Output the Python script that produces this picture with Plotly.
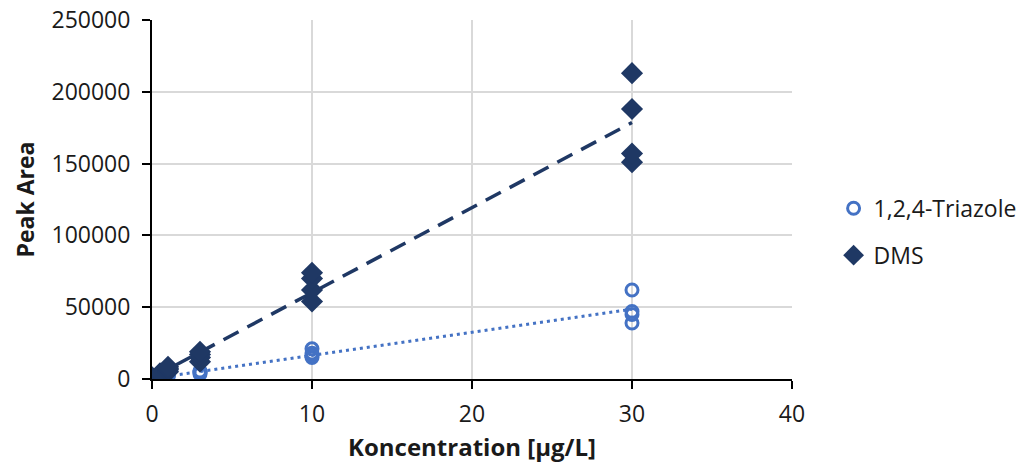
import numpy as np
import plotly.graph_objects as go

# Data
dms_x = [0, 0, 0, 0, 0.5, 0.5, 0.5, 0.5, 1, 1, 1, 1, 3, 3, 3, 3, 10, 10, 10, 10, 30, 30, 30, 30]
dms_y = [500, 800, 1000, 1200, 2500, 3000, 3500, 4000, 5000, 6500, 7500, 8500,
         12000, 15000, 17000, 19000, 54000, 62000, 70000, 74000, 151000, 157000, 188000, 213000]

tri_x = [0, 0, 0.5, 0.5, 1, 1, 1, 3, 3, 3, 3, 10, 10, 10, 10, 30, 30, 30, 30]
tri_y = [200, 300, 800, 1000, 1500, 2000, 2500, 3500, 4500, 5000, 5500,
         15000, 16500, 18000, 21000, 39000, 45000, 47000, 62000]

x_ticks = [0, 10, 20, 30, 40]
y_ticks = [0, 50000, 100000, 150000, 200000, 250000]

navy = "#1F3864"
blue = "#4472C4"
font = "Open Sans"
txt = "#1a1a1a"

def trend(xs, ys):
    k, b = np.polyfit(xs, ys, 1)
    xx = np.array([min(xs), max(xs)])
    return xx, k * xx + b

fig = go.Figure()

tx, ty = trend(tri_x, tri_y)
fig.add_trace(go.Scatter(x=tx, y=ty, mode="lines", showlegend=False,
                         line=dict(color=blue, width=3, dash="3px,4px"), hoverinfo="skip"))
dx, dy = trend(dms_x, dms_y)
fig.add_trace(go.Scatter(x=dx, y=dy, mode="lines", showlegend=False,
                         line=dict(color=navy, width=3.5, dash="17px,10px"), hoverinfo="skip"))

fig.add_trace(go.Scatter(x=tri_x, y=tri_y, mode="markers", name="1,2,4-Triazole",
                         legendgroup="a",
                         marker=dict(symbol="circle-open", size=12, color=blue,
                                     line=dict(width=3, color=blue))))
fig.add_trace(go.Scatter(x=dms_x, y=dms_y, mode="markers", name="DMS",
                         legendgroup="b",
                         marker=dict(symbol="diamond", size=17, color=navy,
                                     line=dict(width=0))))

fig.update_layout(
    width=1024, height=467,
    margin=dict(l=152, r=232, t=20, b=88, autoexpand=False),
    paper_bgcolor="white", plot_bgcolor="white",
    font=dict(family=font, size=23, color=txt),
    legend=dict(x=1.065, y=0.41, xanchor="left", yanchor="middle",
                tracegroupgap=14, font=dict(size=23, family=font, color=txt)),
    xaxis=dict(range=[0, 40], tickvals=x_ticks, showgrid=True, gridcolor="#D9D9D9",
               gridwidth=2, showline=True, linecolor="black", linewidth=2,
               ticks="outside", ticklen=8, tickwidth=2, tickcolor="black",
               zeroline=False, ticklabelstandoff=5,
               tickfont=dict(size=23, family=font, color=txt),
               title=dict(text="<b>Koncentration [µg/L]</b>", standoff=12,
                          font=dict(size=24, family=font, color=txt))),
    yaxis=dict(range=[0, 250000], tickvals=y_ticks, showgrid=True, gridcolor="#D9D9D9",
               gridwidth=2, showline=True, linecolor="black", linewidth=2,
               ticks="outside", ticklen=8, tickwidth=2, tickcolor="black",
               zeroline=False, tickformat="d", ticklabelstandoff=7,
               tickfont=dict(size=23, family=font, color=txt),
               title=dict(text="<b>Peak Area</b>", standoff=10,
                          font=dict(size=23, family=font, color=txt))),
)

fig.write_html("out.html", config={"displayModeBar": False},
               post_script="document.body.style.margin='0';")
